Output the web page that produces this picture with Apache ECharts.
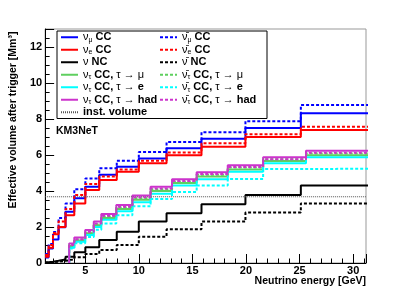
<!DOCTYPE html>
<html><head><meta charset="utf-8">
<script src="https://cdn.jsdelivr.net/npm/echarts@6/dist/echarts.min.js"></script>
<style>html,body{margin:0;padding:0;background:#fff}#c{width:407px;height:292px}</style>
</head><body><div id="c"></div>
<script>
// Log-spaced bin edges (10^0.1 steps) for mu, e and NC channels
const binEdges = [1.259, 1.585, 1.995, 2.512, 3.162, 3.981, 5.012, 6.310, 7.943, 10.0, 12.59, 15.85, 19.95, 25.12, 31.62];
const numuCC    = [0.30, 0.80, 1.30, 1.98, 2.85, 3.60, 4.24, 4.90, 5.35, 5.80, 6.37, 6.90, 7.50, 8.32];
const numubarCC = [0.50, 1.05, 1.72, 2.50, 3.30, 4.10, 4.70, 5.26, 5.68, 6.17, 6.72, 7.26, 7.88, 8.78];
const nueCC     = [0.35, 0.85, 1.60, 2.00, 2.65, 3.30, 4.06, 4.61, 5.07, 5.54, 5.98, 6.46, 7.00, 7.39];
const nuebarCC  = [0.45, 1.00, 1.67, 2.30, 3.00, 3.78, 4.39, 4.80, 5.20, 5.68, 6.14, 6.65, 7.15, 7.57];
const nuNC      = [0.04, 0.07, 0.12, 0.20, 0.35, 0.60, 0.88, 1.28, 1.74, 2.30, 2.76, 3.26, 3.78, 4.30];
const nubarNC   = [0.02, 0.04, 0.07, 0.12, 0.20, 0.32, 0.50, 0.72, 1.00, 1.46, 1.87, 2.30, 2.80, 3.31];
// Tau channels (start above tau production threshold)
const tauEdges  = [3.5, 3.98, 5.0, 5.8, 6.5, 7.9, 9.4, 11.1, 13.1, 15.4, 18.3, 21.6, 25.6, 32];
const nutauMu     = [0.94, 1.25, 1.65, 2.10, 2.50, 3.00, 3.52, 4.00, 4.45, 4.80, 5.20, 5.67, 5.98];
const nutauE      = [0.85, 1.18, 1.55, 2.00, 2.40, 2.88, 3.38, 3.85, 4.30, 4.65, 5.07, 5.54, 5.87];
const nutauHad    = [1.09, 1.41, 1.83, 2.30, 2.72, 3.22, 3.75, 4.24, 4.65, 5.04, 5.43, 5.87, 6.24];
const nutaubarMu  = [0.98, 1.30, 1.70, 2.15, 2.58, 3.08, 3.60, 4.10, 4.52, 4.90, 5.30, 5.77, 6.08];
const nutaubarE   = [0.80, 1.10, 1.45, 1.85, 2.20, 2.65, 3.15, 3.55, 3.95, 4.30, 4.67, 5.22, 5.24];
const nutaubarHad = [1.00, 1.32, 1.74, 2.20, 2.62, 3.12, 3.65, 4.14, 4.55, 4.94, 5.33, 5.77, 6.13];
const instVolume = 3.68;
const xRange = [1.26, 31.2];
const yRange = [0, 13];

function hist(edges, vals, fromZero) {
  const d = [];
  if (fromZero) d.push([edges[0], 0]);
  vals.forEach((v, i) => d.push([edges[i], v]));
  d.push([edges[edges.length - 1], vals[vals.length - 1]]);
  return d;
}

const BLUE = '#0000ff', RED = '#ff0000', BLACK = '#000000', GREEN = '#5fcf5f', CYAN = '#00ffff', MAG = '#cc33cc';
const DOT = [3, 2];

const defs = [
  {name: 'numuCC', label: '{n|ν}{s|μ}{b| CC}', color: BLUE, dash: 'solid', data: hist(binEdges, numuCC)},
  {name: 'nueCC', label: '{n|ν}{s|e}{b| CC}', color: RED, dash: 'solid', data: hist(binEdges, nueCC)},
  {name: 'nuNC', label: '{n|ν}{b| NC}', color: BLACK, dash: 'solid', data: hist(binEdges, nuNC)},
  {name: 'nutauMu', label: '{n|ν}{s|τ}{b| CC, }{n|τ → μ}', color: GREEN, dash: 'solid', data: hist(tauEdges, nutauMu, true)},
  {name: 'nutauE', label: '{n|ν}{s|τ}{b| CC, }{n|τ → }{b|e}', color: CYAN, dash: 'solid', data: hist(tauEdges, nutauE, true)},
  {name: 'nutauHad', label: '{n|ν}{s|τ}{b| CC, }{n|τ → }{b|had}', color: MAG, dash: 'solid', data: hist(tauEdges, nutauHad, true)},
  {name: 'inst', label: '{b|inst. volume}', color: '#555', dash: [1, 1], width: 1, data: [[xRange[0], instVolume], [xRange[1], instVolume]]},
  {name: 'numubarCC', label: '{n|ν̄}{s|μ}{b| CC}', color: BLUE, dash: DOT, data: hist(binEdges, numubarCC)},
  {name: 'nuebarCC', label: '{n|ν̄}{s|e}{b| CC}', color: RED, dash: DOT, data: hist(binEdges, nuebarCC)},
  {name: 'nubarNC', label: '{n|ν̄}{b| NC}', color: BLACK, dash: DOT, data: hist(binEdges, nubarNC)},
  {name: 'nutaubarMu', label: '{n|ν̄}{s|τ}{b| CC, }{n|τ → μ}', color: GREEN, dash: DOT, data: hist(tauEdges, nutaubarMu, true)},
  {name: 'nutaubarE', label: '{n|ν̄}{s|τ}{b| CC, }{n|τ → }{b|e}', color: CYAN, dash: DOT, data: hist(tauEdges, nutaubarE, true)},
  {name: 'nutaubarHad', label: '{n|ν̄}{s|τ}{b| CC, }{n|τ → }{b|had}', color: MAG, dash: DOT, data: hist(tauEdges, nutaubarHad, true)}
];
const labelMap = {};
defs.forEach(d => labelMap[d.name] = d.label);

const FONT = 'Liberation Sans';
const LH = 12.5;
const chart = echarts.init(document.getElementById('c'), null, {renderer: 'canvas'});
chart.setOption({
  animation: false,
  backgroundColor: '#fff',
  grid: {left: 41, top: 29, right: 41, bottom: 29, show: true, borderColor: '#999', borderWidth: 1, backgroundColor: 'transparent'},
  title: {text: 'KM3NeT', left: 56, top: 126, padding: 0, textStyle: {fontFamily: FONT, fontWeight: 'bold', fontSize: 10.5, color: '#000'}},
  legend: {
    orient: 'vertical', left: 57, top: 31, height: 7 * LH + 4,
    itemWidth: 17, itemHeight: 10, itemGap: 0,
    padding: [0, 9, 0, 3],
    borderColor: '#000', borderWidth: 1, backgroundColor: '#fff',
    itemStyle: {color: 'rgba(0,0,0,0)', borderWidth: 0, opacity: 0},
    data: defs.map(d => d.name),
    formatter: n => labelMap[n],
    textStyle: {
      fontFamily: FONT, fontSize: 11, fontWeight: 'bold', color: '#000', width: 76, lineHeight: LH,
      rich: {
        n: {fontFamily: FONT, fontSize: 11, fontWeight: 'normal', lineHeight: LH},
        b: {fontFamily: FONT, fontSize: 11, fontWeight: 'bold', lineHeight: LH},
        s: {fontFamily: FONT, fontSize: 7, fontWeight: 'normal', lineHeight: LH, verticalAlign: 'bottom'}
      }
    }
  },
  xAxis: {
    type: 'value', min: xRange[0], max: xRange[1], splitNumber: 6,
    name: 'Neutrino energy [GeV]', nameLocation: 'end', nameGap: 0,
    nameTextStyle: {fontFamily: FONT, fontWeight: 'bold', fontSize: 10.5, color: '#000', align: 'right', verticalAlign: 'top', padding: [13, 0, 0, 0]},
    axisLine: {show: true, onZero: false, lineStyle: {color: '#000', width: 1}},
    axisTick: {show: true, inside: true, length: 9, lineStyle: {color: '#000'}},
    minorTick: {show: true, splitNumber: 5, length: 4.5, lineStyle: {color: '#000'}},
    axisLabel: {fontFamily: FONT, fontWeight: 'bold', fontSize: 11, color: '#000', margin: 2, showMinLabel: false, showMaxLabel: false},
    splitLine: {show: false}
  },
  yAxis: {
    type: 'value', min: yRange[0], max: yRange[1], interval: 2,
    name: 'Effective volume after trigger [Mm³]', nameLocation: 'middle', nameRotate: 90, nameGap: 22,
    nameTextStyle: {fontFamily: FONT, fontWeight: 'bold', fontSize: 10.5, color: '#000', padding: [0, 0, 0, 52]},
    axisLine: {show: true, onZero: false, lineStyle: {color: '#000', width: 1}},
    axisTick: {show: true, inside: true, length: 9, lineStyle: {color: '#000'}},
    minorTick: {show: true, splitNumber: 4, length: 4.5, lineStyle: {color: '#000'}},
    axisLabel: {fontFamily: FONT, fontWeight: 'bold', fontSize: 11, color: '#000', margin: 3, showMaxLabel: false},
    splitLine: {show: false}
  },
  series: defs.map(d => ({
    name: d.name, type: 'line', step: 'end', symbol: 'none', data: d.data,
    lineStyle: {color: d.color, width: d.width || 2, type: d.dash},
    itemStyle: {color: d.color},
    clip: true, z: 2
  }))
});
</script></body></html>
